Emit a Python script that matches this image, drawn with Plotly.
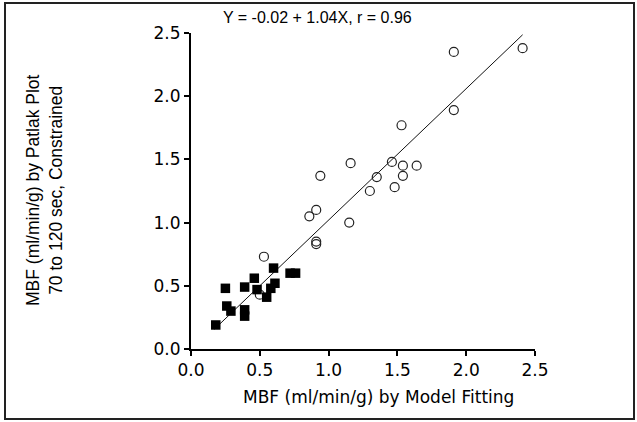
import plotly.graph_objects as go

# Filled squares
sq_x = [0.18, 0.25, 0.26, 0.29, 0.39, 0.39, 0.39, 0.46, 0.48, 0.55, 0.58, 0.61, 0.60, 0.72, 0.76]
sq_y = [0.19, 0.48, 0.34, 0.30, 0.49, 0.31, 0.26, 0.56, 0.47, 0.41, 0.48, 0.52, 0.64, 0.60, 0.60]

# Open circles
ci_x = [2.41, 1.91, 1.91, 1.53, 1.16, 0.94, 1.46, 1.54, 1.64, 1.35, 1.54, 1.48, 1.30, 0.91, 0.86, 1.15, 0.91, 0.91, 0.53, 0.50]
ci_y = [2.38, 2.35, 1.89, 1.77, 1.47, 1.37, 1.48, 1.45, 1.45, 1.36, 1.37, 1.28, 1.25, 1.10, 1.05, 1.00, 0.85, 0.83, 0.73, 0.43]

# Regression line end points
fit_x = [0.17, 2.41]
fit_y = [0.157, 2.486]

equation = "Y = -0.02 + 1.04X, r = 0.96"
x_title = "MBF (ml/min/g) by Model Fitting"
y_title = "MBF (ml/min/g) by Patlak Plot<br>70 to 120 sec, Constrained"
tick_vals = [0.0, 0.5, 1.0, 1.5, 2.0, 2.5]
tick_text = ["0.0", "0.5", "1.0", "1.5", "2.0", "2.5"]

W, H = 637, 422
L, R, T, B = 191, 102, 33, 73
pw, ph = W - L - R, H - T - B

def px(x):
    return (x - L) / pw

def py(y):
    return (H - B - y) / ph

fig = go.Figure()
fig.add_trace(go.Scatter(x=fit_x, y=fit_y, mode="lines",
                         line=dict(color="#111", width=1), hoverinfo="skip"))
fig.add_trace(go.Scatter(x=ci_x, y=ci_y, mode="markers",
                         marker=dict(symbol="circle-open", size=9, color="#222",
                                     line=dict(width=1.2, color="#222"))))
fig.add_trace(go.Scatter(x=sq_x, y=sq_y, mode="markers",
                         marker=dict(symbol="square", size=9.5, color="#000")))

axis_common = dict(range=[0, 2.5], tickvals=tick_vals, ticktext=tick_text,
                   showgrid=False, zeroline=False, showline=True,
                   linecolor="#000", linewidth=2, ticks="outside", ticklen=5,
                   tickwidth=2, tickcolor="#000",
                   tickfont=dict(family="DejaVu Sans", size=17, color="#000"))
fig.update_xaxes(**axis_common)
fig.update_yaxes(**axis_common)

fig.add_annotation(text=equation, xref="paper", yref="paper",
                   x=px(317), y=py(18), xanchor="center", yanchor="middle",
                   showarrow=False,
                   font=dict(family="Liberation Sans", size=16, color="#000"))
fig.add_annotation(text=x_title, xref="paper", yref="paper",
                   x=px(378.5), y=py(397), xanchor="center", yanchor="middle",
                   showarrow=False,
                   font=dict(family="DejaVu Sans", size=17, color="#000"))
fig.add_annotation(text=y_title, xref="paper", yref="paper",
                   x=px(44), y=py(190), xanchor="center", yanchor="middle",
                   textangle=-90, showarrow=False,
                   font=dict(family="Liberation Sans", size=17.5, color="#000"))

fig.add_shape(type="rect", xref="paper", yref="paper",
              x0=px(5), x1=px(634), y0=py(419), y1=py(3),
              line=dict(color="#222", width=2), fillcolor="rgba(0,0,0,0)")

fig.update_layout(width=W, height=H, margin=dict(l=L, r=R, t=T, b=B),
                  paper_bgcolor="white", plot_bgcolor="white",
                  showlegend=False)

fig.write_html("out.html", config={"displayModeBar": False},
               post_script="document.body.style.margin='0';")
